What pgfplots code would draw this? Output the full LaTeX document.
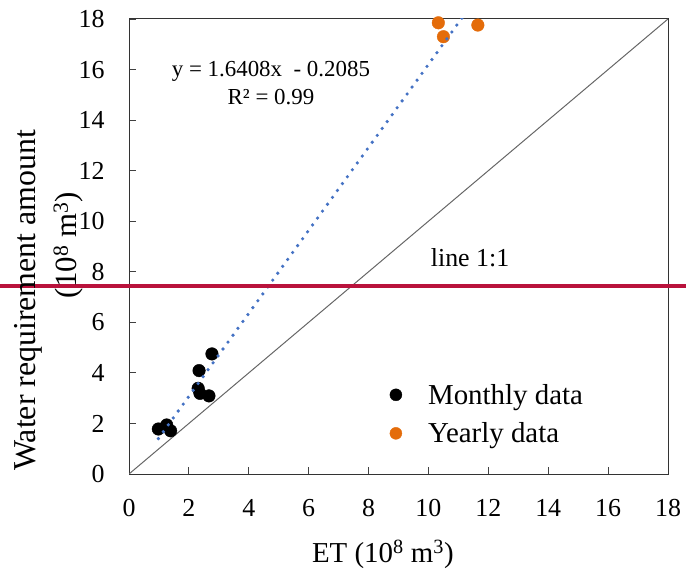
\documentclass[border=0pt]{standalone}
\usepackage{fontspec}
\setmainfont{Liberation Serif}
\usepackage{pgfplots}
\pgfplotsset{compat=1.18}
\definecolor{yearorg}{RGB}{228,108,10}
\definecolor{trendblue}{RGB}{68,114,196}
\definecolor{redline}{RGB}{185,18,60}

\begin{document}
\begin{tikzpicture}
\useasboundingbox (0,0) rectangle (686bp,575bp);
\begin{axis}[
    at={(129bp,101bp)}, anchor=south west,
    scale only axis, width=539bp, height=455bp,
    xmin=0, xmax=18, ymin=0, ymax=18,
    xtick={0,2,...,18}, ytick={0,2,...,18},
    tick align=inside, xtick pos=bottom, ytick pos=left,
    major tick length=7bp,
    tick style={black!75, line width=0.8bp},
    axis line style={black!80, line width=1bp},
    ticklabel style={font=\fontsize{26}{30}\selectfont},
    xticklabel style={yshift=-22bp},
    yticklabel style={xshift=-21bp},
    /pgf/number format/assume math mode=true,
    clip mode=individual,
    legend style={draw=none, fill=none, font=\fontsize{29}{34}\selectfont,
      at={(axis cs:8.6,2.37)}, anchor=west, row sep=13bp,
      /tikz/every odd column/.append style={column sep=24bp}},
    legend cell align=left,
]
% 1:1 line
\addplot[black!60, line width=1bp, forget plot] coordinates {(0,0) (18,18)};

\addplot[only marks, mark=*, mark size=6.3bp, black,
  legend image code/.code={\fill (0.25cm,0cm) circle (6bp);}]
  coordinates {
  (0.98,1.78) (1.26,1.94) (1.39,1.71) (2.34,4.09)
  (2.77,4.75) (2.31,3.39) (2.37,3.19) (2.67,3.09)
};
\addlegendentry{Monthly data}

\addplot[only marks, mark=*, mark size=6.3bp, yearorg,
  legend image code/.code={\fill (0.25cm,0cm) circle (6bp);}]
  coordinates {
  (10.33,17.85) (10.50,17.30) (11.65,17.76)
};
\addlegendentry{Yearly data}

% trend line over all points
\addplot[trendblue, line width=3.6bp, line cap=round,
  dash pattern=on 0bp off 8.5bp, forget plot]
  coordinates {(0.98,1.40) (11.65,18.91)};

\draw[redline, line width=4bp] (axis cs:-4.4,7.44) -- (axis cs:18.7,7.44);

\node[align=center, font=\fontsize{23}{27.7}\selectfont]
  at (axis cs:4.74,15.47) {y = 1.6408x\enspace- 0.2085\\R² = 0.99};
\node[font=\fontsize{26}{30}\selectfont] at (axis cs:11.39,8.54) {line 1:1};

\node[rotate=90, anchor=base, font=\fontsize{32}{36}\selectfont]
  at (rel axis cs:-0.1744,0.382) {Water requirement amount};
\node[rotate=90, anchor=base, font=\fontsize{31}{36}\selectfont]
  at (rel axis cs:-0.0965,0.503) {(10\textsuperscript{8} m\textsuperscript{3})};
\node[anchor=base, font=\fontsize{29}{34}\selectfont]
  at (rel axis cs:0.471,-0.195) {ET (10\textsuperscript{8} m\textsuperscript{3})};
\end{axis}
\end{tikzpicture}
\end{document}
